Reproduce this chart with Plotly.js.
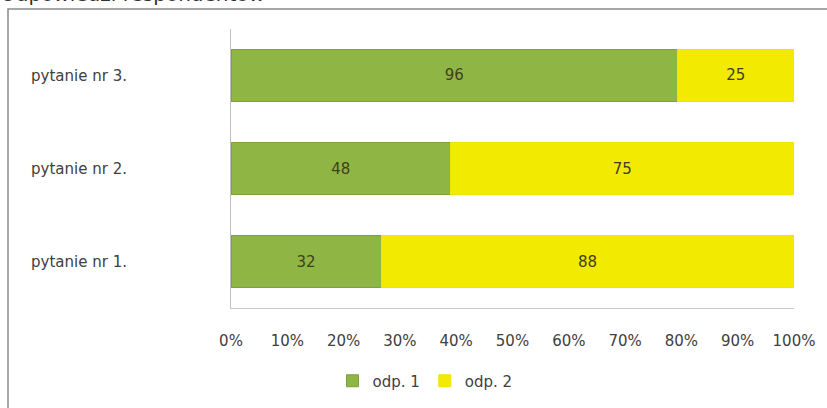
<!DOCTYPE html>
<html><head><meta charset="utf-8">
<script src="https://cdn.plot.ly/plotly-3.0.1.min.js"></script>
<style>html,body{margin:0;padding:0;background:#fff;}#chart{width:827px;height:408px;}</style>
</head><body><div id="chart"></div>
<script>
const categories = ["pytanie nr 1.", "pytanie nr 2.", "pytanie nr 3."];
const seriesNames = ["odp. 1", "odp. 2"];
const odp1 = [32, 48, 96];
const odp2 = [88, 75, 25];
const xTickVals = [0,10,20,30,40,50,60,70,80,90,100];
const xTickText = ["0%","10%","20%","30%","40%","50%","60%","70%","80%","90%","100%"];
const titleText = "Odpowiedzi respondentów";

const fam = "DejaVu Sans, sans-serif";
const fs = 15;
const font = {family: fam, size: fs, color: "#404040"};
const traces = [
  {type:"bar", orientation:"h", name:seriesNames[0], y:categories, x:odp1, text:odp1.map(String),
   texttemplate:"%{text}", textposition:"inside", insidetextanchor:"middle",
   textfont:{family:fam, size:fs, color:"#3f3f1f"},
   marker:{color:"#8fb545", line:{color:"#7fa03c", width:1}}, hoverinfo:"none"},
  {type:"bar", orientation:"h", name:seriesNames[1], y:categories, x:odp2, text:odp2.map(String),
   texttemplate:"%{text}", textposition:"inside", insidetextanchor:"middle",
   textfont:{family:fam, size:fs, color:"#3f3f1f"},
   marker:{color:"#f2ea00", line:{color:"#eee400", width:1}}, hoverinfo:"none"}
];
const L=231, R=33, T=29, B=99, H=280, W=563;
const layout = {
  width:827, height:408, barmode:"stack", barnorm:"percent", bargap:0.45,
  margin:{l:L, r:R, t:T, b:B, pad:0},
  paper_bgcolor:"#fff", plot_bgcolor:"#fff", font:font, showlegend:true,
  xaxis:{range:[0,100], tickvals:xTickVals, ticktext:xTickText, showgrid:false, zeroline:false,
         showline:true, linecolor:"#c8c8c8", linewidth:1, ticks:"", ticklabelstandoff:19,
         tickfont:{family:fam, size:fs, color:"#404040"}, fixedrange:true},
  yaxis:{showgrid:false, zeroline:false, showline:true, linecolor:"#c0c0c0", linewidth:1, ticks:"",
         ticklabelstandoff:100, tickfont:{family:fam, size:fs, color:"#404040"},
         range:[-0.5,2.5], fixedrange:true},
  legend:{orientation:"h", x:(425-L)/W, xanchor:"center", y:-(381-(T+H))/H, yanchor:"middle",
          font:{family:fam, size:fs, color:"#404040"}, itemwidth:30, traceorder:"normal"},
  annotations:[{text:titleText, xref:"paper", yref:"paper", x:(-2-L)/W, xanchor:"left",
                y:1+(T-8)/H, yanchor:"bottom", showarrow:false,
                font:{family:fam, size:20, color:"#303030"}}],
  shapes:[{type:"rect", xref:"paper", yref:"paper", x0:(8-L)/W, x1:(840-L)/W,
           y0:-(420-(T+H))/H, y1:1+(T-9)/H, line:{color:"#8a8a8a", width:1.5}, layer:"below"}]
};
Plotly.newPlot("chart", traces, layout, {staticPlot:true, displayModeBar:false});
</script></body></html>
